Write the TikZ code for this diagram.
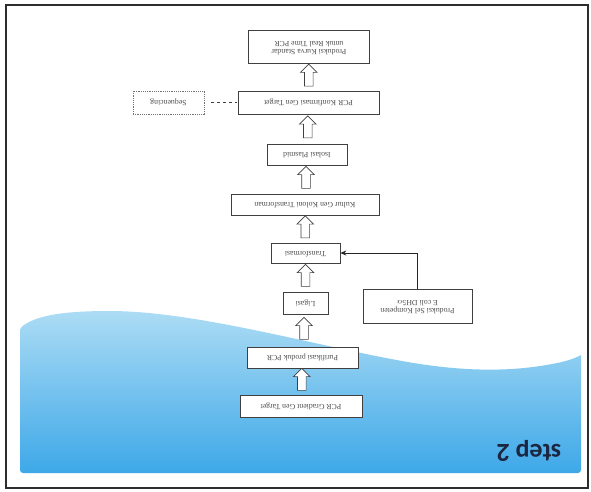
\documentclass[tikz,border=0pt]{standalone}
\usepackage{fontspec}
\setmainfont{Liberation Serif}
\newfontfamily\stepfont{Carlito}
\usetikzlibrary{shapes.arrows,arrows.meta,calc}
\definecolor{waveTop}{RGB}{172,220,244}
\definecolor{waveBot}{RGB}{62,168,232}
\definecolor{titleCol}{RGB}{28,38,64}
\definecolor{frameCol}{RGB}{45,45,45}
\newcommand\flip[1]{\rotatebox[origin=c]{180}{\begin{tabular}{@{}c@{}}#1\end{tabular}}}
\renewcommand\arraystretch{0.95}
\tikzset{
  stepbox/.style={draw=black!75, line width=0.6pt, fill=white, inner sep=1pt,
    font=\fontsize{7.8}{9}\selectfont, text=black!70},
  dotbox/.style={stepbox, draw=black!55, dash pattern=on 1.2pt off 1pt},
  blockarrow/.style={single arrow, draw=black!75, fill=white, line width=0.6pt,
    rotate=90, minimum height=22pt, minimum width=16pt,
    single arrow head extend=4pt, inner xsep=0pt, inner ysep=4pt},
}
\begin{document}
\begin{tikzpicture}[x=1pt,y=-1pt]
\useasboundingbox (0,0) rectangle (591,491);
% background wave
\shade[top color=waveTop, bottom color=waveBot]
  (20,328) .. controls (38,314) and (70,311) .. (110,311)
  .. controls (200,311) and (330,350) .. (420,364)
  .. controls (460,370) and (500,372) .. (540,366)
  .. controls (560,363) and (572,360) .. (581,355)
  [rounded corners=3pt] -- (581,473) -- (20,473) -- cycle;
% frame
\draw[line width=1.6pt, frameCol] (6,5) rectangle (588,488);
% title
\node[font=\stepfont\bfseries\fontsize{26}{28}\selectfont, text=titleCol, inner sep=0pt]
  (title) at (529,451) {\rotatebox[origin=c]{180}{step 2}};
% boxes
\node[stepbox, minimum width=121pt, minimum height=33pt] (kurva) at (309,47)
  {\flip{Produksi Kurva Standar\\untuk Real Time PCR}};
\node[stepbox, minimum width=141pt, minimum height=23pt] (konf) at (308.5,102.5)
  {\flip{PCR Konfirmasi Gen Target}};
\node[dotbox, minimum width=71pt, minimum height=23pt] (seq) at (168.5,102.5)
  {\flip{Sequencing}};
\node[stepbox, minimum width=80pt, minimum height=21pt] (iso) at (307,154.5)
  {\flip{Isolasi Plasmid}};
\node[stepbox, minimum width=148pt, minimum height=21pt] (kultur) at (305,204.5)
  {\flip{Kultur Gen Koloni Transforman}};
\node[stepbox, minimum width=69pt, minimum height=20pt] (trans) at (305.5,253)
  {\flip{Transformasi}};
\node[stepbox, minimum width=45pt, minimum height=22pt] (ligasi) at (305.5,303)
  {\flip{Ligasi}};
\node[stepbox, minimum width=111pt, minimum height=21pt] (puri) at (302.5,357.5)
  {\flip{Purifikasi produk PCR}};
\node[stepbox, minimum width=122pt, minimum height=22pt] (grad) at (301,406)
  {\flip{PCR Gradient Gen Target}};
\node[stepbox, minimum width=109pt, minimum height=34pt] (prod) at (417.5,306)
  {\flip{Produksi Sel Kompeten\\E coli DH5$\alpha$}};
% block arrows
\node[blockarrow] (a1) at ($(konf.north)!0.5!(kurva.south)$) {};
\node[blockarrow] (a2) at ($(iso.north)!0.5!(konf.south)$) {};
\node[blockarrow] (a3) at ($(kultur.north)!0.5!(iso.south)$) {};
\node[blockarrow] (a4) at ($(trans.north)!0.5!(kultur.south)$) {};
\node[blockarrow] (a5) at ($(ligasi.north)!0.5!(trans.south)$) {};
\node[blockarrow] (a6) at ($(puri.north)!0.5!(ligasi.south)$) {};
\node[blockarrow] (a7) at ($(grad.north)!0.5!(puri.south)$) {};
% connectors
\draw[black!75, line width=0.7pt, dashed, shorten <=7pt, shorten >=1pt] (seq.east) -- (konf.west);
\draw[black!85, line width=0.9pt, -{Stealth[length=6pt,width=5pt]}] (prod.north) |- (trans.east);
\end{tikzpicture}
\end{document}
